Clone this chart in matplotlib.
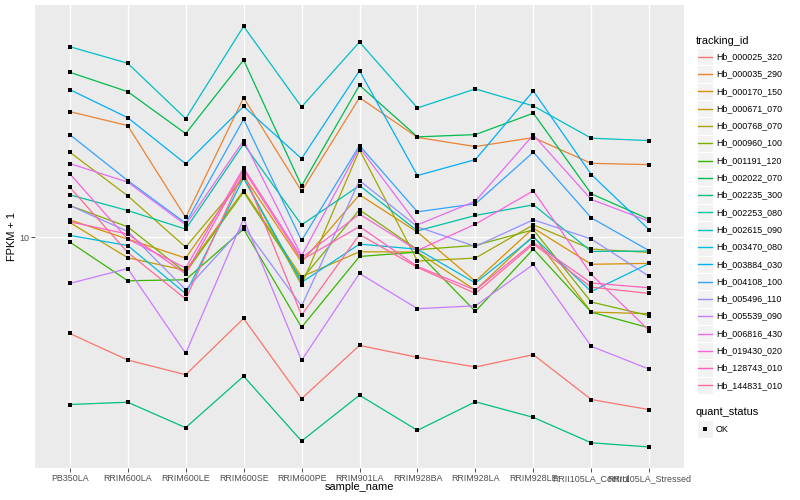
import numpy as np
import matplotlib
matplotlib.use("Agg")
import matplotlib.pyplot as plt
from matplotlib.patches import Rectangle
from matplotlib.lines import Line2D

samples = ["PB350LA", "RRIM600LA", "RRIM600LE", "RRIM600SE", "RRIM600PE", "RRIM901LA",
           "RRIM928BA", "RRIM928LA", "RRIM928LE", "RRII105LA_Control", "RRII105LA_Stressed"]
ids = ["Hb_000025_320", "Hb_000035_290", "Hb_000170_150", "Hb_000671_070", "Hb_000768_070",
       "Hb_000960_100", "Hb_001191_120", "Hb_002022_070", "Hb_002235_300", "Hb_002253_080",
       "Hb_002615_090", "Hb_003470_080", "Hb_003884_030", "Hb_004108_100", "Hb_005496_110",
       "Hb_005539_090", "Hb_006816_430", "Hb_019430_020", "Hb_128743_010", "Hb_144831_010"]

# FPKM + 1 per tracking_id, one value per sample (order of `samples`)
hb_000025_320 = [5.30, 4.45, 4.04, 5.85, 3.45, 4.90, 4.53, 4.25, 4.61, 3.43, 3.21]
hb_000035_290 = [22.85, 20.84, 11.38, 25.05, 13.53, 25.05, 19.28, 18.15, 19.26, 16.25, 16.12]
hb_000170_150 = [11.20, 9.87, 8.71, 14.97, 8.48, 13.21, 10.33, 7.47, 10.61, 8.36, 8.41]
hb_000671_070 = [11.01, 8.73, 8.03, 13.59, 7.70, 9.08, 9.06, 7.05, 10.09, 6.10, 6.04]
hb_000768_070 = [17.49, 13.12, 9.36, 14.74, 7.29, 17.76, 8.54, 8.71, 10.84, 9.24, 9.04]
hb_000960_100 = [12.31, 10.70, 7.92, 13.45, 7.57, 11.97, 9.20, 9.47, 10.49, 6.52, 5.96]
hb_001191_120 = [9.68, 7.50, 7.55, 10.54, 5.52, 8.80, 9.06, 6.13, 9.24, 6.10, 5.50]
hb_002022_070 = [29.61, 26.06, 19.77, 32.10, 14.01, 27.18, 19.35, 19.64, 22.61, 13.30, 11.24]
hb_002235_300 = [3.32, 3.37, 2.85, 4.00, 2.61, 3.53, 2.80, 3.38, 3.05, 2.58, 2.51]
hb_002253_080 = [13.21, 11.91, 10.54, 18.47, 10.84, 14.04, 10.42, 11.53, 12.37, 9.10, 9.12]
hb_002615_090 = [35.04, 31.42, 21.82, 40.07, 23.57, 36.14, 23.41, 26.53, 23.72, 19.18, 18.88]
hb_003470_080 = [10.11, 9.46, 6.89, 14.77, 7.42, 9.55, 9.23, 7.39, 10.00, 6.99, 8.41]
hb_003884_030 = [26.41, 21.96, 16.20, 23.64, 16.77, 29.92, 15.00, 16.66, 26.18, 15.10, 10.49]
hb_004108_100 = [19.64, 14.51, 10.96, 21.73, 9.78, 18.27, 11.81, 12.45, 17.49, 11.35, 9.14]
hb_005496_110 = [12.31, 10.38, 7.07, 10.72, 6.35, 14.51, 10.70, 9.40, 11.21, 9.87, 7.72]
hb_005539_090 = [7.37, 8.13, 4.65, 11.28, 4.44, 7.87, 6.24, 6.36, 8.35, 4.87, 4.19]
hb_006816_430 = [16.23, 14.36, 10.84, 18.88, 8.84, 18.03, 10.84, 12.67, 19.60, 12.81, 11.10]
hb_019430_020 = [15.17, 9.87, 8.16, 15.78, 8.73, 11.63, 9.16, 10.89, 13.56, 7.82, 5.40]
hb_128743_010 = [11.06, 10.20, 7.85, 15.57, 8.60, 10.72, 8.24, 7.05, 9.65, 7.39, 7.16]
hb_144831_010 = [13.89, 9.04, 6.65, 15.37, 5.98, 10.17, 8.19, 6.90, 9.55, 7.19, 6.90]

series = [hb_000025_320, hb_000035_290, hb_000170_150, hb_000671_070, hb_000768_070,
          hb_000960_100, hb_001191_120, hb_002022_070, hb_002235_300, hb_002253_080,
          hb_002615_090, hb_003470_080, hb_003884_030, hb_004108_100, hb_005496_110,
          hb_005539_090, hb_006816_430, hb_019430_020, hb_128743_010, hb_144831_010]


def hcl(h, c=100, l=65):
    hr = np.deg2rad(h)
    L = l; u = c * np.cos(hr); v = c * np.sin(hr)
    Xn, Yn, Zn = 95.047, 100.0, 108.883
    un = 4 * Xn / (Xn + 15 * Yn + 3 * Zn); vn = 9 * Yn / (Xn + 15 * Yn + 3 * Zn)
    Y = Yn * ((L + 16) / 116) ** 3
    up = u / (13 * L) + un; vp = v / (13 * L) + vn
    X = 9.0 * Y * up / (4 * vp); Z = -X / 3 - 5 * Y + 3 * Y / vp
    X, Y, Z = X / 100, Y / 100, Z / 100
    rl = 3.240479 * X - 1.537150 * Y - 0.498535 * Z
    gl = -0.969256 * X + 1.875992 * Y + 0.041556 * Z
    bl = 0.055648 * X - 0.204043 * Y + 1.057311 * Z
    def g(t):
        t = 12.92 * t if t <= 0.0031308 else 1.055 * t ** (1 / 2.4) - 0.055
        return float(min(max(t, 0), 1))
    return (g(rl), g(gl), g(bl))


n = len(ids)
colors = [hcl(15 + 342 * k / (n - 1)) for k in range(n)]

plt.rcParams['font.family'] = ['Liberation Sans', 'DejaVu Sans']
W, H = 800, 500
fig = plt.figure(figsize=(8, 5), dpi=100)
L, R, T, B = 35, 684, 5.3, 468
ax = fig.add_axes([L / W, 1 - B / H, (R - L) / W, (B - T) / H])
ax.set_facecolor('#EBEBEB')
x = np.arange(len(samples))
for k in range(n):
    ax.plot(x, series[k], color=colors[k], lw=0.9, zorder=2)
    ax.plot(x, series[k], ls='none', marker='s', ms=2.9, color='black', mew=0, zorder=3)
ax.set_yscale('log')
allv = np.log10(np.array(series))
lo, hi = allv.min(), allv.max()
rr = hi - lo
ax.set_ylim(10 ** (lo - 0.05 * rr), 10 ** (hi + 0.05 * rr))
ax.set_xlim(-0.6, len(samples) - 1 + 0.6)
ax.set_yticks([10]); ax.set_yticklabels(['10'])
ax.yaxis.set_minor_locator(matplotlib.ticker.NullLocator())
ax.set_xticks(x); ax.set_xticklabels(samples)
ax.grid(True, color='white', lw=1.0)
ax.set_axisbelow(True)
for s in ax.spines.values():
    s.set_visible(False)
ax.tick_params(axis='both', colors='#333333', labelcolor='#4D4D4D', labelsize=6.4,
               length=2.7, width=0.6, pad=1.5)
ax.set_xlabel('sample_name', fontsize=7.9)
ax.set_ylabel('FPKM + 1', fontsize=7.9)
ax.xaxis.set_label_coords(0.5, (468 - 482.5) / (B - T))
ax.yaxis.set_label_coords((17.5 - L) / (R - L), 0.5)

tf = fig.transFigure
def fx(px): return px / W
def fy(py): return 1 - py / H

fig.text(fx(696), fy(40.7), 'tracking_id', fontsize=7.9, va='center', ha='left')
for k in range(n):
    yc = 56.7 + 17.3 * k
    fig.add_artist(Rectangle((fx(696.7), fy(yc + 8.6)), 16 / W, 17.3 / H, transform=tf,
                             facecolor='#F2F2F2', edgecolor='white', lw=0.8, zorder=1))
    fig.add_artist(Line2D([fx(698), fx(711.7)], [fy(yc), fy(yc)], transform=tf,
                          color=colors[k], lw=1.0, zorder=5))
    fig.text(fx(716.7), fy(yc), ids[k], fontsize=6.4, va='center', ha='left')
fig.text(fx(696), fy(412.3), 'quant_status', fontsize=7.9, va='center', ha='left')
yc = 429
fig.add_artist(Rectangle((fx(696.7), fy(yc + 8.6)), 16 / W, 17.3 / H, transform=tf,
                         facecolor='#F2F2F2', edgecolor='white', lw=0.8, zorder=1))
fig.add_artist(Line2D([fx(704.7)], [fy(yc)], transform=tf, marker='s', ms=2.9,
                      color='black', mew=0, ls='none', zorder=5))
fig.text(fx(715.7), fy(yc), 'OK', fontsize=6.4, va='center', ha='left')

fig.savefig('out.png', dpi=100)
